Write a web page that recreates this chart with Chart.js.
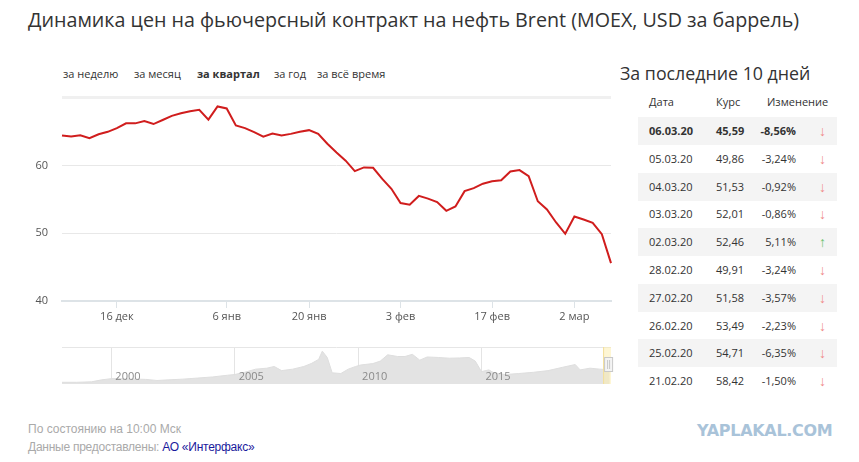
<!DOCTYPE html>
<html lang="ru">
<head>
<meta charset="UTF-8">
<title>Brent MOEX</title>
<script src="https://cdn.jsdelivr.net/npm/chart.js"></script>
<style>
    body { margin: 0; width: 859px; height: 462px; background: #fff; font-family: "Open Sans", sans-serif; color: #333; position: relative; overflow: hidden; }
    .abs { position: absolute; white-space: nowrap; }
    .title { left: 28px; top: 5px; font-size: 19.7px; line-height: 30px; color: #333; }
    .tab { top: 66px; font-size: 11px; line-height: 16px; }
    .tab.on { font-weight: 700; }
    #mainBox { left: 0; top: 77px; width: 620px; height: 259px; }
    #navBox { left: 0; top: 347px; width: 620px; height: 37px; }
    .side-title { left: 620px; top: 60px; font-size: 17.8px; line-height: 26px; }
    .row { position: absolute; left: 638px; width: 199px; height: 28px; font-size: 11px; line-height: 28px; }
    .row.alt { background: #f4f4f4; }
    .row.bold { font-weight: 700; }
    .row .d { position: absolute; left: 11px; }
    .row .k { position: absolute; left: 78px; }
    .row .c { position: absolute; right: 41px; }
    .row .a { position: absolute; left: 181px; font-weight: 400; font-size: 14px; }
    .down { color: #f08a8a; }
    .up { color: #6cc36c; }
    .foot { left: 28px; font-family: "Liberation Sans Narrow", "Liberation Sans", sans-serif; font-size: 12px; color: #aaa; }
    .foot a { color: #1a1a9c; text-decoration: none; }
    .wm { left: 697px; top: 421px; font-family: "DejaVu Sans", sans-serif; font-weight: 700; font-size: 16px; color: #a9c3d9; letter-spacing: -0.3px; }
</style>
</head>
<body>
<div class="abs title">Динамика цен на фьючерсный контракт на нефть Brent (MOEX, USD за баррель)</div>
<div id="tabs"></div>
<div class="abs" id="mainBox"><canvas id="priceChart"></canvas></div>
<div class="abs" id="navBox"><canvas id="navChart"></canvas></div>
<div class="abs side-title">За последние 10 дней</div>
<div id="table"></div>
<div class="abs foot" style="top:422px">По состоянию на 10:00 Мск</div>
<div class="abs foot" style="top:440px; letter-spacing:-0.25px">Данные предоставлены: <a href="#">АО «Интерфакс»</a></div>
<div class="abs wm">YAPLAKAL.COM</div>

<script>
// торговые дни за квартал
const dates = [
    '06.12.19','09.12.19','10.12.19','11.12.19','12.12.19','13.12.19','16.12.19','17.12.19','18.12.19','19.12.19',
    '20.12.19','23.12.19','24.12.19','25.12.19','26.12.19','27.12.19','30.12.19',
    '03.01.20','06.01.20','08.01.20','09.01.20','10.01.20','13.01.20','14.01.20','15.01.20','16.01.20','17.01.20',
    '20.01.20','21.01.20','22.01.20','23.01.20','24.01.20','27.01.20','28.01.20','29.01.20','30.01.20','31.01.20',
    '03.02.20','04.02.20','05.02.20','06.02.20','07.02.20','10.02.20','11.02.20','12.02.20','13.02.20','14.02.20',
    '17.02.20','18.02.20','19.02.20','20.02.20','21.02.20','25.02.20','26.02.20','27.02.20','28.02.20',
    '02.03.20','03.03.20','04.03.20','05.03.20','06.03.20'
];
const prices = [
    64.4, 64.25, 64.45, 64.0, 64.6, 64.95, 65.5, 66.2, 66.2, 66.55,
    66.1, 66.7, 67.3, 67.7, 68.0, 68.2, 66.75,
    68.7, 68.4, 65.9, 65.5, 64.9, 64.25, 64.7, 64.4, 64.65, 64.95,
    65.2, 64.65, 63.2, 61.9, 60.7, 59.15, 59.7, 59.65, 58.0, 56.55,
    54.45, 54.2, 55.5, 55.1, 54.6, 53.3, 53.95, 56.2, 56.65, 57.3,
    57.65, 57.8, 59.1, 59.31, 58.42, 54.71, 53.49, 51.58, 49.91,
    52.46, 52.01, 51.53, 49.86, 45.59
];
const tickDates = ['16.12.19', '06.01.20', '20.01.20', '03.02.20', '17.02.20', '02.03.20'];
const tickTexts = ['16 дек', '6 янв', '20 янв', '3 фев', '17 фев', '2 мар'];
const yTicks = [40, 50, 60, 70];

// вся история (навигатор)
const navYears = [
    1998.0, 1998.6, 1999.2, 1999.6, 2000.0, 2000.4, 2001.0, 2001.4, 2001.85, 2002.3,
    2002.9, 2003.5, 2004.1, 2004.7, 2005.0, 2005.4, 2005.85, 2006.3, 2006.6, 2006.9,
    2007.35, 2007.8, 2008.1, 2008.4, 2008.55, 2008.75, 2008.95, 2009.3, 2009.6, 2009.9,
    2010.1, 2010.6, 2010.9, 2011.2, 2011.6, 2011.9, 2012.2, 2012.5, 2012.8, 2013.25,
    2013.7, 2014.1, 2014.5, 2014.75, 2015.0, 2015.3, 2015.5, 2015.95, 2016.5, 2017.1,
    2017.7, 2018.3, 2018.8, 2019.0, 2019.4, 2019.8, 2020.2
];
const navValues = [
    12, 12, 14, 22, 27, 27, 25, 24, 19.5, 22,
    25, 29.5, 34, 41, 44, 53, 66, 70, 77, 60,
    66, 77, 89, 106, 140, 114, 51, 48, 66, 77,
    83, 89, 99, 125, 118, 118, 127, 103, 116, 114,
    111, 112, 114, 99, 56, 63, 51, 44, 48, 53,
    60, 74, 85, 63, 70, 66, 63
];
const navYearTicks = [2000, 2005, 2010, 2015];

// вкладки периода
const tabTexts = ['за неделю', 'за месяц', 'за квартал', 'за год', 'за всё время'];
const tabLeft = [63, 134, 197, 274, 317];

// таблица за последние 10 дней
const tableDates = ['06.03.20','05.03.20','04.03.20','03.03.20','02.03.20','28.02.20','27.02.20','26.02.20','25.02.20','21.02.20'];
const tableRates = ['45,59','49,86','51,53','52,01','52,46','49,91','51,58','53,49','54,71','58,42'];
const tableChanges = ['-8,56%','-3,24%','-0,92%','-0,86%','5,11%','-3,24%','-3,57%','-2,23%','-6,35%','-1,50%'];

const fontFamily = '"Open Sans", sans-serif';

document.getElementById('tabs').innerHTML = tabTexts.map(function(t, i) {
    return '<div class="abs tab' + (i === 2 ? ' on' : '') + '" style="left:' + tabLeft[i] + 'px">' + t + '</div>';
}).join('');

// шапка и строки таблицы
let html = '<div class="row" style="top:88px"><span class="d">Дата</span><span class="k">Курс</span><span class="d" style="left:129px">Изменение</span></div>';
tableDates.forEach(function(d, i) {
    const up = tableChanges[i].charAt(0) !== '-';
    const cls = 'row' + (i % 2 === 0 ? ' alt' : '') + (i === 0 ? ' bold' : '');
    html += '<div class="' + cls + '" style="top:' + (117 + i * 27.8) + 'px">' +
        '<span class="d">' + d + '</span>' +
        '<span class="k">' + tableRates[i] + '</span>' +
        '<span class="c">' + tableChanges[i] + '</span>' +
        '<span class="a ' + (up ? 'up' : 'down') + '">' + (up ? '↑' : '↓') + '</span></div>';
});
document.getElementById('table').innerHTML = html;

new Chart(document.getElementById('priceChart'), {
    type: 'line',
    data: {
        labels: dates,
        datasets: [{
            data: prices,
            borderColor: '#d01d1d',
            borderWidth: 2,
            pointRadius: 0,
            tension: 0,
            fill: false
        }]
    },
    options: {
        responsive: true,
        maintainAspectRatio: false,
        animation: false,
        layout: { padding: { top: 9, right: 9, left: 0, bottom: 0 } },
        plugins: { legend: { display: false }, tooltip: { enabled: false } },
        scales: {
            x: {
                type: 'category',
                offset: false,
                border: { display: true, color: '#dde3e7', width: 2 },
                grid: { drawOnChartArea: false, drawTicks: true, tickLength: 7, color: '#dde3e7' },
                ticks: {
                    autoSkip: false,
                    maxRotation: 0,
                    padding: 2,
                    color: '#555',
                    font: { family: fontFamily, size: 11 },
                    callback: function(value) {
                        const k = tickDates.indexOf(this.getLabelForValue(value));
                        return k >= 0 ? tickTexts[k] : null;
                    }
                },
                afterFit: function(scale) { scale.height = 35; }
            },
            y: {
                min: 40,
                max: 70,
                border: { display: false },
                afterBuildTicks: function(scale) { scale.ticks = yTicks.map(v => ({ value: v })); },
                grid: {
                    drawTicks: false,
                    color: function(ctx) {
                        if (ctx.tick.value === 40) return 'rgba(0,0,0,0)';
                        if (ctx.tick.value === 70) return '#f0f0f0';
                        return '#e8e8e8';
                    },
                    lineWidth: function(ctx) { return ctx.tick.value === 70 ? 3 : 1; }
                },
                ticks: {
                    padding: 14,
                    color: '#555',
                    font: { family: fontFamily, size: 11 },
                    callback: function(v) { return (v === 40 || v === 50 || v === 60) ? String(v) : ''; }
                },
                afterFit: function(scale) { scale.width = 62; }
            }
        }
    }
});

// подписи лет, рамка и выделенный квартал на навигаторе
const navDecor = {
    id: 'navDecor',
    afterDatasetsDraw: function(chart) {
        const ctx = chart.ctx;
        const a = chart.chartArea;
        const xs = chart.scales.x;
        ctx.save();
        ctx.strokeStyle = '#e6e6e6';
        ctx.lineWidth = 1;
        ctx.beginPath();
        ctx.moveTo(a.left, a.top + 0.5);
        ctx.lineTo(a.right, a.top + 0.5);
        ctx.stroke();
        ctx.fillStyle = '#8a8a8a';
        ctx.font = '11px ' + fontFamily;
        ctx.textBaseline = 'middle';
        navYearTicks.forEach(function(y) {
            ctx.fillText(String(y), xs.getPixelForValue(y) + 4, a.bottom - 7);
        });
        const x0 = xs.getPixelForValue(2019.93);
        ctx.fillStyle = 'rgba(253, 238, 170, 0.5)';
        ctx.fillRect(x0, a.top, a.right - x0, a.bottom - a.top);
        ctx.strokeStyle = '#f3df9a';
        ctx.beginPath();
        ctx.moveTo(x0 + 0.5, a.top);
        ctx.lineTo(x0 + 0.5, a.bottom);
        ctx.stroke();
        ctx.fillStyle = '#f4f4f4';
        ctx.strokeStyle = '#c8c8c8';
        ctx.fillRect(x0 + 1, a.top + 10, 8, 14);
        ctx.strokeRect(x0 + 1.5, a.top + 10.5, 8, 14);
        ctx.beginPath();
        ctx.moveTo(x0 + 4.5, a.top + 13);
        ctx.lineTo(x0 + 4.5, a.top + 22);
        ctx.moveTo(x0 + 6.5, a.top + 13);
        ctx.lineTo(x0 + 6.5, a.top + 22);
        ctx.stroke();
        ctx.restore();
    }
};

new Chart(document.getElementById('navChart'), {
    type: 'line',
    data: {
        datasets: [{
            data: navYears.map((y, i) => ({ x: y, y: navValues[i] })),
            borderColor: '#dedede',
            borderWidth: 1,
            backgroundColor: '#e3e3e3',
            pointRadius: 0,
            tension: 0,
            fill: 'start'
        }]
    },
    options: {
        responsive: true,
        maintainAspectRatio: false,
        animation: false,
        layout: { padding: { left: 62, right: 9, top: 0, bottom: 0 } },
        plugins: { legend: { display: false }, tooltip: { enabled: false } },
        scales: {
            x: {
                type: 'linear',
                min: 1998.0,
                max: 2020.25,
                border: { display: false },
                afterBuildTicks: function(scale) { scale.ticks = navYearTicks.map(v => ({ value: v })); },
                grid: { drawTicks: false, color: '#e4e4e4' },
                ticks: { display: false },
                afterFit: function(scale) { scale.height = 0; }
            },
            y: { display: false, min: 5, max: 157 }
        }
    },
    plugins: [navDecor]
});
</script>
</body>
</html>
